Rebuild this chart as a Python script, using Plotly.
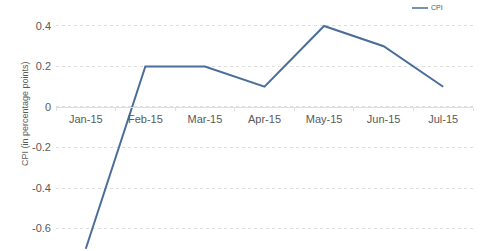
import plotly.graph_objects as go

months = ["Jan-15", "Feb-15", "Mar-15", "Apr-15", "May-15", "Jun-15", "Jul-15"]
cpi = [-0.7, 0.2, 0.2, 0.1, 0.4, 0.3, 0.1]
ytick_vals = [-0.6, -0.4, -0.2, 0, 0.2, 0.4]
ytick_text = ["-0.6", "-0.4", "-0.2", "0", "0.2", "0.4"]
series_name = "CPI"
y_title = "CPI (in percentage points)"

W, H = 480, 251
ML, MR = 56, 7
y_lo, y_hi = -0.711, 0.528
zero_pos = (0 - y_lo) / (y_hi - y_lo)
pw = W - ML - MR

LINE = "#4a6d99"
TXT = "#595959"
GRID = "#dedede"
FONT = "Liberation Sans, Arial, sans-serif"

fig = go.Figure()
fig.add_trace(go.Scatter(x=months, y=cpi, mode="lines", name=series_name,
                         line=dict(color=LINE, width=2), showlegend=False,
                         cliponaxis=False))

fig.update_layout(
    width=W, height=H,
    margin=dict(l=ML, r=MR, t=0, b=0),
    paper_bgcolor="white", plot_bgcolor="white",
    font=dict(family=FONT, color=TXT, size=11),
    xaxis=dict(type="category", range=[-0.5, 6.5], anchor="free", position=zero_pos,
               showline=True, linecolor=GRID, linewidth=1, showgrid=False,
               ticks="outside", ticklen=3, tickcolor=GRID, tickson="boundaries",
               ticklabelstandoff=2,
               tickfont=dict(size=11, color=TXT), zeroline=False),
    yaxis=dict(range=[y_lo, y_hi], tickvals=ytick_vals, ticktext=ytick_text,
               showgrid=True, gridcolor=GRID, griddash="dot", gridwidth=1,
               zeroline=False, showline=False, ticks="", ticklabelstandoff=4,
               tickfont=dict(size=11, color=TXT)),
)

# y-axis title
fig.add_annotation(text=y_title, xref="paper", yref="paper",
                   x=(18 - ML) / pw, y=1 - 114 / H, textangle=-90,
                   showarrow=False, font=dict(size=9, color=TXT))

# legend (line sample + label)
fig.add_shape(type="line", xref="paper", yref="paper",
              x0=(412 - ML) / pw, x1=(428 - ML) / pw, y0=1 - 8 / H, y1=1 - 8 / H,
              line=dict(color=LINE, width=1.5))
fig.add_annotation(text=series_name, xref="paper", yref="paper",
                   x=(429 - ML) / pw, y=1 - 8 / H, xanchor="left", yanchor="middle",
                   showarrow=False, font=dict(size=7, color=TXT))

fig.write_html("out.html")
